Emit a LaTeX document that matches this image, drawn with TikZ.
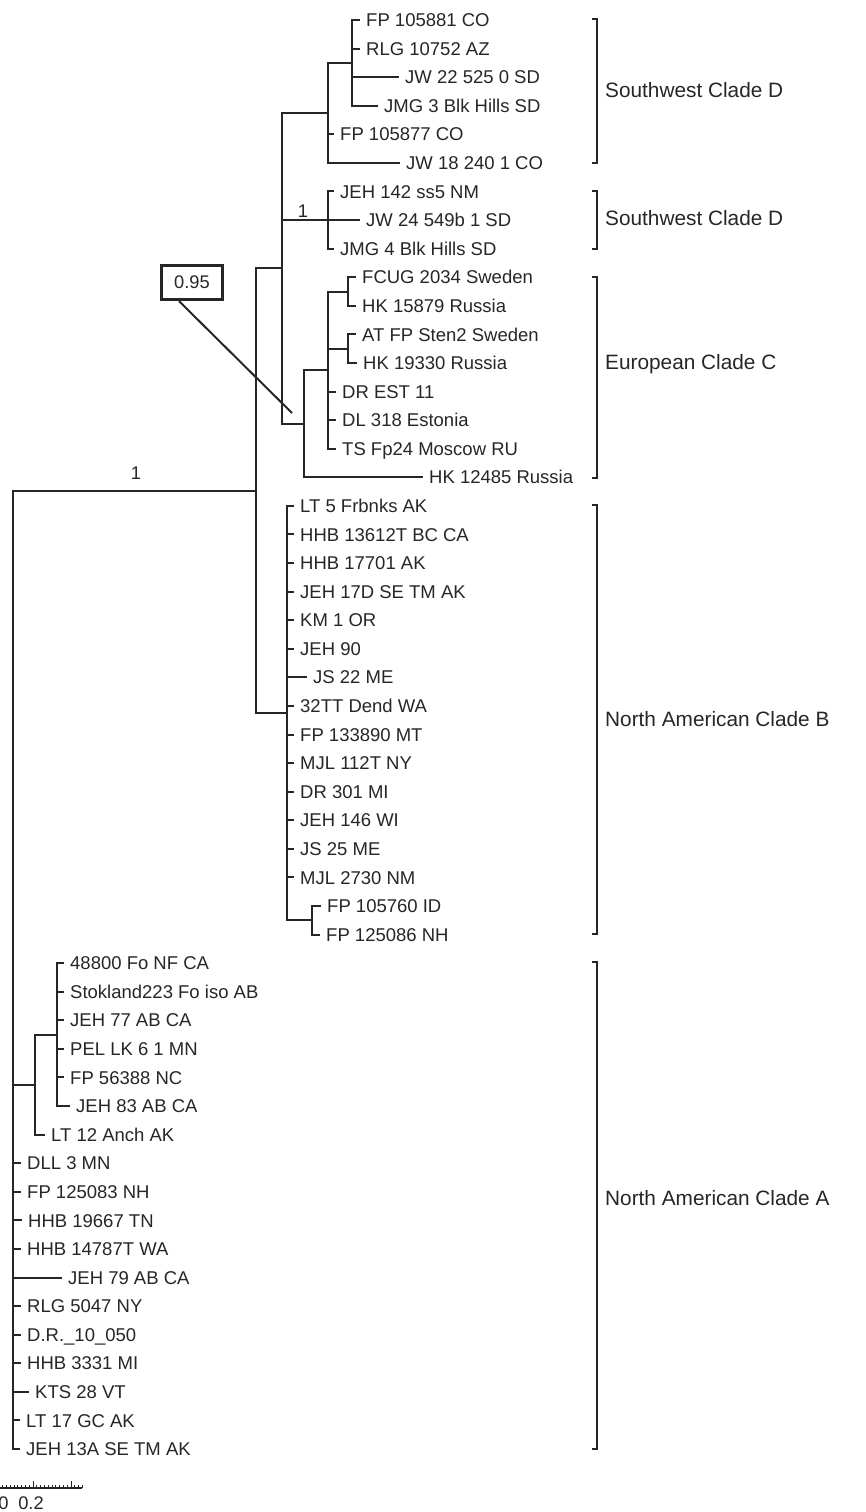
\documentclass[tikz,border=0pt]{standalone}
\usepackage{fontspec}
\setmainfont{Liberation Sans}

\definecolor{inkgray}{HTML}{262626}

\tikzset{
    branch/.style={line width=2pt, draw=inkgray},
    bracket/.style={line width=2pt, draw=inkgray},
    leaf/.style={
        anchor=west, inner xsep=6pt, inner ysep=0pt,
        text height=13.25pt, text depth=0pt, text=inkgray,
        font=\fontsize{18.5}{22}\selectfont
    },
    cladelabel/.style={
        anchor=west, inner sep=0pt,
        text height=14.9pt, text depth=0pt, text=inkgray,
        font=\fontsize{20.8}{25}\selectfont
    },
    support/.style={
        inner sep=0pt, text=inkgray,
        font=\fontsize{18.3}{22}\selectfont
    },
    supportbox/.style={
        support, draw=inkgray, line width=3pt,
        minimum width=61pt, minimum height=34pt
    }
}

\begin{document}
\begin{tikzpicture}[x=1pt, y=-1pt]
        \useasboundingbox (0, 0) rectangle (865, 1512);

        % inner nodes
        \coordinate (n4) at (352, 62.87);
        \coordinate (n3) at (328, 112.9);
        \coordinate (n5) at (328, 220.06);
        \coordinate (n8) at (348, 291.5);
        \coordinate (n9) at (348, 348.67);
        \coordinate (n7) at (328, 370.1);
        \coordinate (n6) at (304, 423.69);
        \coordinate (n2) at (282, 268.3);
        \coordinate (n11) at (312, 920.27);
        \coordinate (n10) at (287, 713.07);
        \coordinate (n1) at (256, 490.7);
        \coordinate (n13) at (57, 1034.59);
        \coordinate (n12) at (35, 1084.6);
        \coordinate (n0) at (13, 969.85);

        % leaves
        \node[leaf] (l1) at (360, 20) {FP 105881 CO};
        \node[leaf] (l2) at (360, 48.58) {RLG 10752 AZ};
        \node[leaf] (l3) at (399, 77.16) {JW 22 525 0 SD};
        \node[leaf] (l4) at (378, 105.74) {JMG 3 Blk Hills SD};
        \node[leaf] (l5) at (334, 134.32) {FP 105877 CO};
        \node[leaf] (l6) at (400, 162.9) {JW 18 240 1 CO};
        \node[leaf] (l7) at (334, 191.48) {JEH 142 ss5 NM};
        \node[leaf] (l8) at (360, 220.06) {JW 24 549b 1 SD};
        \node[leaf] (l9) at (334, 248.64) {JMG 4 Blk Hills SD};
        \node[leaf] (l10) at (356, 277.22) {FCUG 2034 Sweden};
        \node[leaf] (l11) at (356, 305.8) {HK 15879 Russia};
        \node[leaf] (l12) at (356, 334.38) {AT FP Sten2 Sweden};
        \node[leaf] (l13) at (357, 362.96) {HK 19330 Russia};
        \node[leaf] (l14) at (336, 391.54) {DR EST 11};
        \node[leaf] (l15) at (336, 420.12) {DL 318 Estonia};
        \node[leaf] (l16) at (336, 448.7) {TS Fp24 Moscow RU};
        \node[leaf] (l17) at (423, 477.28) {HK 12485 Russia};
        \node[leaf] (l18) at (294, 505.86) {LT 5 Frbnks AK};
        \node[leaf] (l19) at (294, 534.44) {HHB 13612T BC CA};
        \node[leaf] (l20) at (294, 563.02) {HHB 17701 AK};
        \node[leaf] (l21) at (294, 591.6) {JEH 17D SE TM AK};
        \node[leaf] (l22) at (294, 620.18) {KM 1 OR};
        \node[leaf] (l23) at (294, 648.76) {JEH 90};
        \node[leaf] (l24) at (307, 677.34) {JS 22 ME};
        \node[leaf] (l25) at (294, 705.92) {32TT Dend WA};
        \node[leaf] (l26) at (294, 734.5) {FP 133890 MT};
        \node[leaf] (l27) at (294, 763.08) {MJL 112T NY};
        \node[leaf] (l28) at (294, 791.66) {DR 301 MI};
        \node[leaf] (l29) at (294, 820.24) {JEH 146 WI};
        \node[leaf] (l30) at (294, 848.82) {JS 25 ME};
        \node[leaf] (l31) at (294, 877.4) {MJL 2730 NM};
        \node[leaf] (l32) at (321, 905.98) {FP 105760 ID};
        \node[leaf] (l33) at (320, 934.56) {FP 125086 NH};
        \node[leaf] (l34) at (64, 963.14) {48800 Fo NF CA};
        \node[leaf] (l35) at (64, 991.72) {Stokland223 Fo iso AB};
        \node[leaf] (l36) at (64, 1020.3) {JEH 77 AB CA};
        \node[leaf] (l37) at (64, 1048.88) {PEL LK 6 1 MN};
        \node[leaf] (l38) at (64, 1077.46) {FP 56388 NC};
        \node[leaf] (l39) at (70, 1106.04) {JEH 83 AB CA};
        \node[leaf] (l40) at (45, 1134.62) {LT 12 Anch AK};
        \node[leaf] (l41) at (21, 1163.2) {DLL 3 MN};
        \node[leaf] (l42) at (21, 1191.78) {FP 125083 NH};
        \node[leaf] (l43) at (22, 1220.36) {HHB 19667 TN};
        \node[leaf] (l44) at (21, 1248.94) {HHB 14787T WA};
        \node[leaf] (l45) at (62, 1277.52) {JEH 79 AB CA};
        \node[leaf] (l46) at (21, 1306.1) {RLG 5047 NY};
        \node[leaf] (l47) at (21, 1334.68) {D.R.\_10\_050};
        \node[leaf] (l48) at (21, 1363.26) {HHB 3331 MI};
        \node[leaf] (l49) at (29, 1391.84) {KTS 28 VT};
        \node[leaf] (l50) at (20, 1420.42) {LT 17 GC AK};
        \node[leaf] (l51) at (20, 1449) {JEH 13A SE TM AK};

        % branches
        \foreach \c in {l1, l2, l3, l4} \draw[branch] (n4) |- (\c.west);
        \foreach \c in {n4, l5.west, l6.west} \draw[branch] (n3) |- (\c);
        \foreach \c in {l7, l8, l9} \draw[branch] (n5) |- (\c.west);
        \foreach \c in {l10, l11} \draw[branch] (n8) |- (\c.west);
        \foreach \c in {l12, l13} \draw[branch] (n9) |- (\c.west);
        \foreach \c in {n8, n9, l14.west, l15.west, l16.west} \draw[branch] (n7) |- (\c);
        \foreach \c in {n7, l17.west} \draw[branch] (n6) |- (\c);
        \foreach \c in {n3, n5, n6} \draw[branch] (n2) |- (\c);
        \foreach \c in {l32, l33} \draw[branch] (n11) |- (\c.west);
        \foreach \i in {18, ..., 31} \draw[branch] (n10) |- (l\i.west);
        \draw[branch] (n10) |- (n11);
        \foreach \c in {n2, n10} \draw[branch] (n1) |- (\c);
        \foreach \i in {34, ..., 39} \draw[branch] (n13) |- (l\i.west);
        \foreach \c in {n13, l40.west} \draw[branch] (n12) |- (\c);
        \foreach \i in {41, ..., 51} \draw[branch] (n0) |- (l\i.west);
        \foreach \c in {n1, n12} \draw[branch] (n0) |- (\c);

        % support values
        \node[support] (s1) at (136, 473) {1};
        \node[support] (s2) at (303, 211) {1};
        \node[supportbox] (b95) at (192, 282.6) {0.95};
        \coordinate (p95) at (292, 413);
        \draw[line width=2pt, inkgray] ([xshift=-13pt]b95.south) -- (p95);

        % clade brackets
        \draw[bracket] (592, 19) -- (597, 19) -- (597, 162.5) -- (592, 162.5);
        \draw[bracket] (592, 191) -- (597, 191) -- (597, 249) -- (592, 249);
        \draw[bracket] (592, 277) -- (597, 277) -- (597, 477.5) -- (592, 477.5);
        \draw[bracket] (592, 504.5) -- (597, 504.5) -- (597, 933.5) -- (592, 933.5);
        \draw[bracket] (592, 962) -- (597, 962) -- (597, 1449) -- (592, 1449);

        \node[cladelabel] (cD1) at (605, 90) {Southwest Clade D};
        \node[cladelabel] (cD2) at (605, 218) {Southwest Clade D};
        \node[cladelabel] (cC) at (605, 362) {European Clade C};
        \node[cladelabel] (cB) at (605, 719) {North American Clade B};
        \node[cladelabel] (cA) at (605, 1198) {North American Clade A};

        % scale bar
        \draw[line width=1.4pt, inkgray] (0, 1488) -- (82, 1488);
        \foreach \k in {-8, ..., 13}
            \draw[line width=0.9pt, inkgray] (33 + \k*3.8, 1488) -- ++(0, -3.5);
        \foreach \k in {0, 10}
            \draw[line width=0.9pt, inkgray] (33 + \k*3.8, 1488) -- ++(0, -7);
        \node[support] (t0) at (3.5, 1503) {0};
        \node[support] (t2) at (31, 1503) {0.2};
    \end{tikzpicture}
\end{document}
